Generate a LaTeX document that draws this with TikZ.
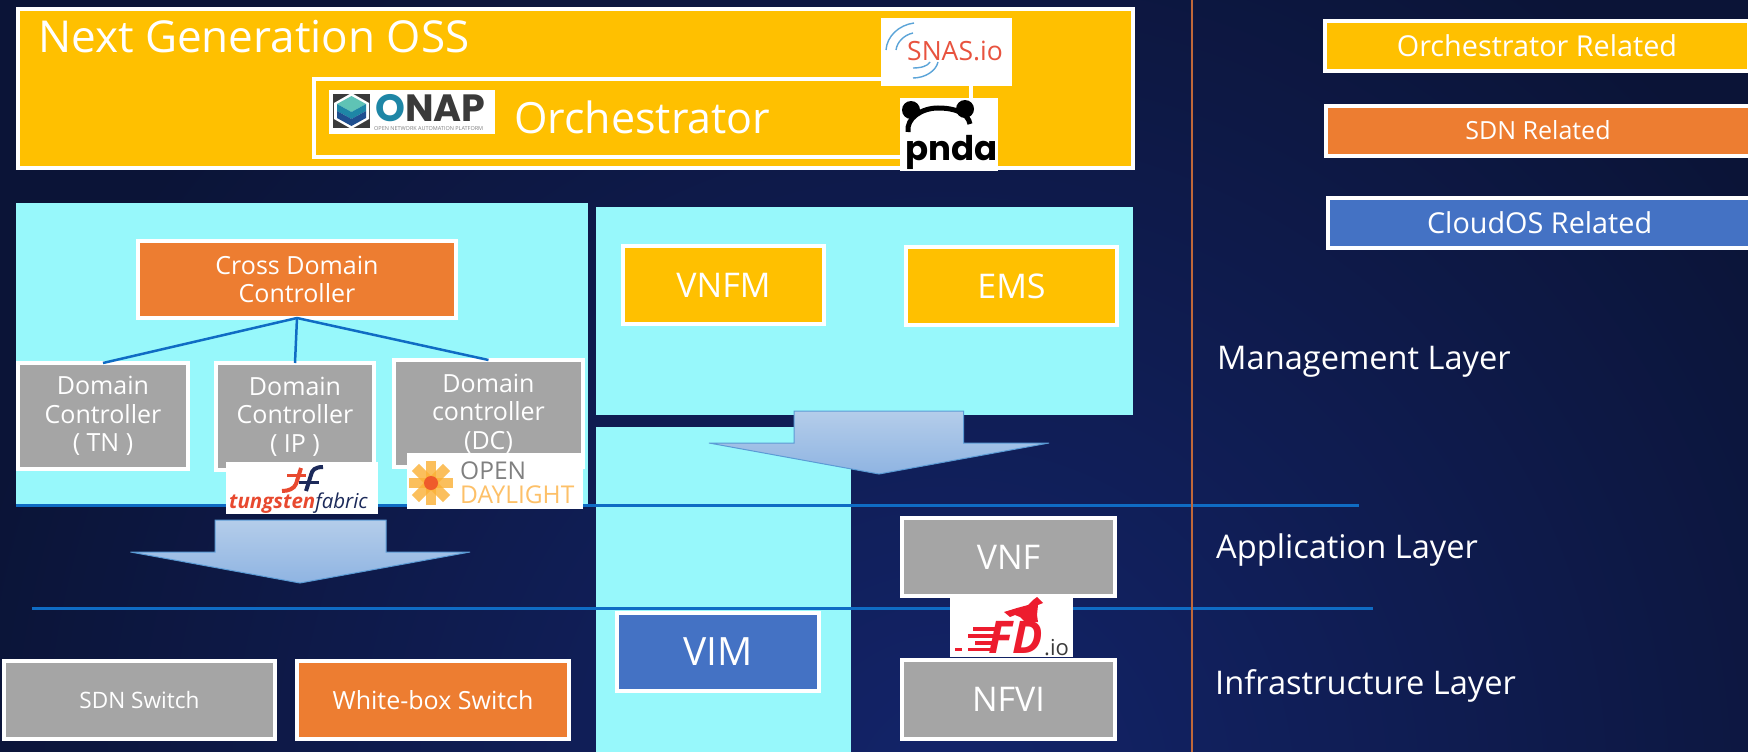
\documentclass[tikz,border=0pt]{standalone}
\usepackage{fontspec}
\setmainfont{Open Sans}
\newfontfamily\roundfont{Poppins}
\definecolor{navyback}{HTML}{0B1437}
\definecolor{navyglow}{HTML}{13246A}
\definecolor{yellowfill}{HTML}{FFC000}
\definecolor{orangefill}{HTML}{ED7D31}
\definecolor{bluefill}{HTML}{4472C4}
\definecolor{greyfill}{HTML}{A5A5A5}
\definecolor{cyanpanel}{HTML}{97F8FB}
\definecolor{layerline}{HTML}{0F6CC4}
\definecolor{splitline}{HTML}{C0683A}
\definecolor{dropedge}{HTML}{5B9BD5}
\definecolor{droptop}{HTML}{B4CDEA}
\definecolor{dropbottom}{HTML}{8FB4E2}
\definecolor{snasred}{HTML}{E8533F}
\definecolor{snasblue}{HTML}{5BA4D8}
\definecolor{onaplight}{HTML}{5FC3B5}
\definecolor{onapteal}{HTML}{1E86A6}
\definecolor{onapdeep}{HTML}{1F4F90}
\definecolor{onapdark}{HTML}{3A3A3A}
\definecolor{tungred}{HTML}{E8492F}
\definecolor{tungblue}{HTML}{1C2A5A}
\definecolor{dayorange}{HTML}{FBB034}
\definecolor{daypale}{HTML}{FDC068}
\definecolor{dayred}{HTML}{EF5B2B}
\definecolor{fdred}{HTML}{ED1C2E}
\tikzset{
    basebox/.style={rectangle, draw=white, line width=4pt, text=white, inner sep=0pt, outer sep=0pt, align=center},
    yellowbox/.style={basebox, fill=yellowfill},
    orangebox/.style={basebox, fill=orangefill},
    bluebox/.style={basebox, fill=bluefill},
    greybox/.style={basebox, fill=greyfill},
    panel/.style={rectangle, fill=cyanpanel, inner sep=0pt, outer sep=0pt},
    logobox/.style={rectangle, fill=white, inner sep=0pt, outer sep=0pt},
    plaintext/.style={text=white, inner sep=0pt, anchor=base west},
    logotext/.style={inner sep=0pt, anchor=base west},
    layerrule/.style={layerline, line width=3pt},
    dropshape/.style={draw=dropedge, line width=1pt, top color=droptop, bottom color=dropbottom},
    bigfont/.style={font=\fontsize{34}{40}\selectfont},
    legendfont/.style={font=\fontsize{28.8}{34}\selectfont},
    layerfont/.style={font=\fontsize{32.6}{38}\selectfont},
    midfont/.style={font=\fontsize{25}{28.5}\selectfont},
    smallfont/.style={font=\fontsize{22.6}{26}\selectfont}
}
\begin{document}
\begin{tikzpicture}[x=1pt, y=-1pt]

        \useasboundingbox (0,0) rectangle (1748,752);
        \fill[navyback] (0,0) rectangle (1748,752);
        \begin{scope}
            \clip (0,0) rectangle (1748,752);
            \shade[inner color=navyglow, outer color=navyback] (950,790) circle (1000);
        \end{scope}

        \node[panel, minimum width=572pt, minimum height=302pt] (leftpanel) at (302,354) {};
        \node[panel, minimum width=537pt, minimum height=208pt] (toppanel) at (864.5,311) {};
        \node[panel, minimum width=255pt, minimum height=325pt] (lowpanel) at (723.5,589.5) {};

        \coordinate (appstart) at (16,505);
        \coordinate (append) at (1359,505);
        \coordinate (infrastart) at (32,608);
        \coordinate (infraend) at (1373,608);
        \draw[layerrule] (appstart) -- (append);
        \draw[layerrule] (infrastart) -- (infraend);

        \coordinate (splittop) at (1192,0);
        \coordinate (splitbottom) at (1192,752);
        \draw[splitline, line width=1.2pt] (splittop) -- (splitbottom);

        \node[yellowbox, minimum width=1115pt, minimum height=159pt] (oss) at (575.5,88.5) {};
        \node[plaintext, font=\fontsize{44}{50}\selectfont] (osstext) at (38,53) {Next Generation OSS};
        \node[yellowbox, minimum width=657pt, minimum height=78pt] (orch) at (642.5,118) {};
        \node[plaintext, font=\fontsize{43}{50}\selectfont] (orchtext) at (514,133) {Orchestrator};

        \node[logobox, minimum width=166pt, minimum height=44pt] (onap) at (412,112) {};
        \fill[onapdark] (333,94) rectangle (370,128);
        \fill[white] (351.5,93) -- (369,103) -- (369,119) -- (351.5,129) -- (334,119) -- (334,103) -- cycle;
        \fill[onaplight] (351.5,96) -- (366,104) -- (351.5,112) -- (337,104) -- cycle;
        \fill[onapteal] (337,104) -- (351.5,112) -- (366,104) -- (366,111) -- (351.5,119) -- (337,111) -- cycle;
        \fill[onapdeep] (337,111) -- (351.5,119) -- (366,111) -- (366,118) -- (351.5,126) -- (337,118) -- cycle;
        \node[logotext, font=\fontsize{38}{40}\roundfont\bfseries\selectfont] (onaptext) at (375,121) {\textcolor{onapteal}{O}\textcolor{onapdark}{NAP}};
        \node[logotext, text=gray, font=\fontsize{5.5}{6}\selectfont] (onaptag) at (374,130.5) {OPEN NETWORK AUTOMATION PLATFORM};

        \node[logobox, minimum width=131pt, minimum height=68pt] (snas) at (946.5,52) {};
        \draw[snasblue, line width=1.4pt] (914,23) .. controls (899,25) and (887,36) .. (886,50);
        \draw[snasblue, line width=1.4pt] (913,33) .. controls (904,35) and (897,42) .. (896,50);
        \draw[snasblue, line width=1.4pt] (938,62) .. controls (936,71) and (925,78) .. (913,78);
        \draw[snasblue, line width=1.4pt] (930,62) .. controls (928,66) and (921,68) .. (913,68);
        \node[logotext, text=snasred, font=\fontsize{26.5}{30}\selectfont] (snastext) at (907,60) {SNAS.io};

        \node[logobox, minimum width=98pt, minimum height=73pt] (pnda) at (949,134.5) {};
        \fill[black] (911,110) circle (9);
        \fill[black] (965,109) circle (9);
        \draw[black, line width=5pt] (908,132) .. controls (906,118) and (922,108) .. (938,108) .. controls (955,108) and (968,113) .. (970,124);
        \node[logotext, text=black, font=\fontsize{34}{36}\roundfont\bfseries\selectfont] (pndatext) at (905,160) {pnda};

        \node[orangebox, minimum width=318pt, minimum height=77pt, midfont] (cross) at (297,279.5) {Cross Domain\\Controller};
        \node[greybox, minimum width=170pt, minimum height=106pt, midfont] (domtn) at (103,416) {Domain\\Controller\\( TN )};
        \node[greybox, minimum width=158pt, minimum height=107pt, midfont] (domip) at (295,416.5) {Domain\\Controller\\( IP )};
        \node[greybox, minimum width=189pt, minimum height=107pt, midfont] (domdc) at (488.5,413.5) {Domain\\controller\\(DC)};

        \draw[layerline, line width=2.5pt] (cross.south) -- (domtn.north);
        \draw[layerline, line width=2.5pt] (cross.south) -- (domip.north);
        \draw[layerline, line width=2.5pt] (cross.south) -- (domdc.north);

        \node[logobox, minimum width=152pt, minimum height=52pt] (tungsten) at (302,488) {};
        \draw[tungred, line width=4pt] (301,468) -- (296,484) .. controls (294,489) and (288,491) .. (282,491);
        \draw[tungred, line width=3pt] (287,475) -- (306,475);
        \draw[tungblue, line width=4pt] (323,467) .. controls (315,467) and (312,470) .. (311,475) -- (306,491);
        \draw[tungblue, line width=3pt] (299,482) -- (319,482);
        \node[logotext, font=\fontsize{20.5}{22}\itshape\selectfont] (tungstentext) at (229,508) {\textcolor{tungred}{\bfseries tungsten}\textcolor{tungblue}{fabric}};

        \node[logobox, minimum width=176pt, minimum height=56pt] (daylight) at (495,481) {};
        \foreach \armangle in {0,45,90,135} {
            \fill[dayorange, fill opacity=0.8, rotate around={\armangle:(431,483)}] (409,478) rectangle (453,488);
        }
        \fill[dayred] (431,483) circle (7);
        \node[logotext, text=gray, font=\fontsize{24.5}{26}\selectfont] (daytop) at (460,479) {OPEN};
        \node[logotext, text=daypale, font=\fontsize{24.5}{26}\selectfont] (daybottom) at (460,503) {DAYLIGHT};

        \node[yellowbox, minimum width=201pt, minimum height=78pt, bigfont] (vnfm) at (723.5,285) {VNFM};
        \node[yellowbox, minimum width=211pt, minimum height=78pt, bigfont] (ems) at (1011.5,286) {EMS};

        \shade[dropshape] (794,411) -- (963.5,411) -- (963.5,443) -- (1049,443) -- (879,474) -- (709,443) -- (794,443) -- cycle;
        \shade[dropshape] (215,520) -- (386,520) -- (386,552) -- (470,552) -- (300,583) -- (130.5,552) -- (215,552) -- cycle;

        \node[greybox, minimum width=213pt, minimum height=78pt, bigfont] (vnf) at (1008.5,557) {VNF};
        \node[greybox, minimum width=213pt, minimum height=79pt, bigfont] (nfvi) at (1008.5,699.5) {NFVI};
        \node[bluebox, minimum width=202pt, minimum height=78pt, font=\fontsize{39}{44}\selectfont] (vim) at (718,652) {VIM};

        \node[logobox, minimum width=123pt, minimum height=61pt] (fdio) at (1011.5,626.5) {};
        \fill[fdred] (1004,612) -- (1017,608) -- (1028,605) -- (1033,600) -- (1037,597) -- (1043,603) -- (1038,605) -- (1037,615) -- (1038,622) -- (1025,622) -- (1020,617) -- (1015,615) -- (1010,617) -- cycle;
        \fill[fdred] (973,627) rectangle (997,631);
        \fill[fdred] (968,634) rectangle (995,638);
        \fill[fdred] (975,641) rectangle (994,645);
        \fill[fdred] (955,648) rectangle (962,651);
        \fill[fdred] (968,648) rectangle (992,651);
        \node[logotext, text=fdred, font=\fontsize{45}{47}\bfseries\itshape\selectfont] (fdtext) at (988,653) {FD};
        \node[logotext, text=onapdark, font=\fontsize{22}{24}\selectfont] (iotext) at (1044,655) {.io};

        \node[greybox, minimum width=271pt, minimum height=78pt, smallfont] (sdnswitch) at (139.5,700) {SDN Switch};
        \node[orangebox, minimum width=271.5pt, minimum height=78pt, midfont] (whitebox) at (433,700) {White-box Switch};

        \node[yellowbox, minimum width=424pt, minimum height=50pt, legendfont] (legorch) at (1537,46) {Orchestrator Related};
        \node[orangebox, minimum width=424pt, minimum height=50pt, midfont] (legsdn) at (1538,130.5) {SDN Related};
        \node[bluebox, minimum width=424pt, minimum height=50pt, legendfont] (legcloud) at (1539.6,223) {CloudOS Related};

        \node[plaintext, layerfont] (mgmtlayer) at (1217,369) {Management Layer};
        \node[plaintext, layerfont] (applayer) at (1216,558) {Application Layer};
        \node[plaintext, layerfont] (infralayer) at (1215,694) {Infrastructure Layer};
\end{tikzpicture}
\end{document}
